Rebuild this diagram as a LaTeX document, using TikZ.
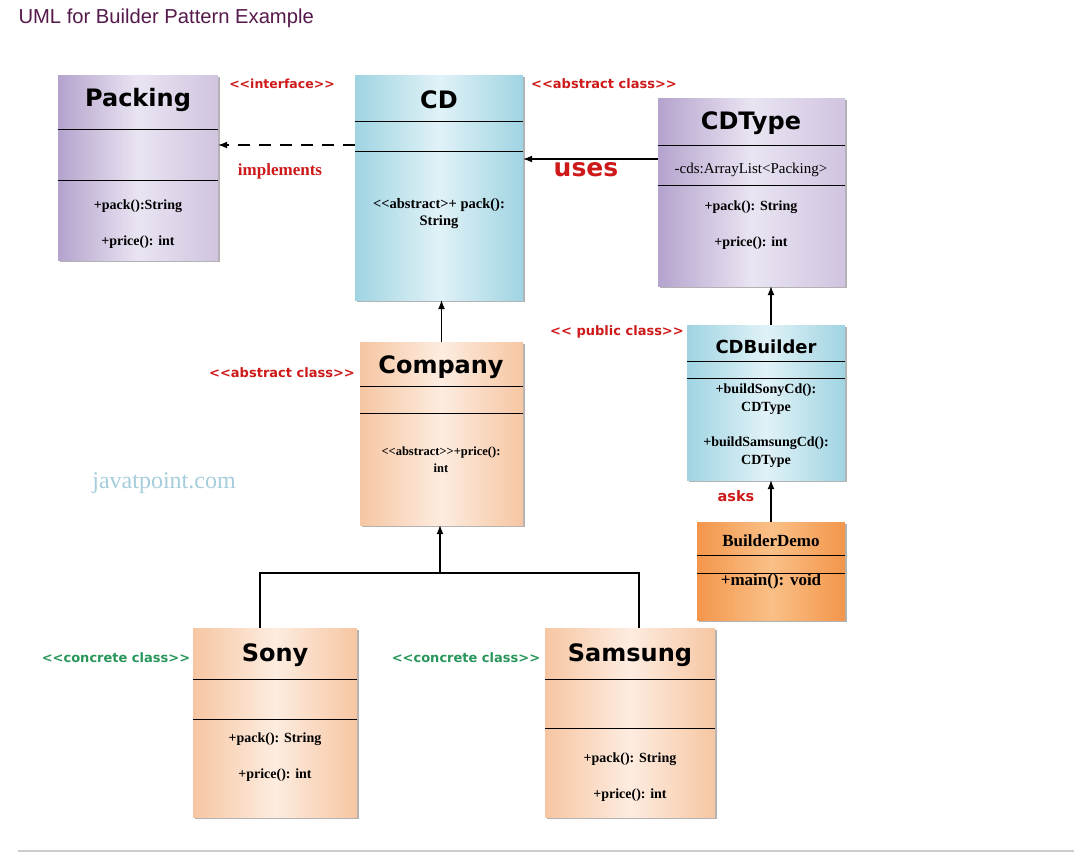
\documentclass[tikz,border=0pt]{standalone}
\usepackage{fontspec}
\setmainfont{Liberation Serif}[Ligatures=TeXOff]
\newfontfamily\boxfont{DejaVu Sans}[Ligatures=TeXOff]
\newfontfamily\webfont{Liberation Sans}[Ligatures=TeXOff]
\usetikzlibrary{arrows.meta,fit,shadows}
\definecolor{lilacD}{RGB}{180,163,205}
\definecolor{lilacL}{RGB}{234,228,242}
\definecolor{lilacM}{RGB}{208,196,224}
\definecolor{skyD}{RGB}{160,212,226}
\definecolor{skyL}{RGB}{224,242,247}
\definecolor{peachD}{RGB}{246,198,162}
\definecolor{peachL}{RGB}{253,236,224}
\definecolor{orangeD}{RGB}{243,150,75}
\definecolor{orangeL}{RGB}{250,192,135}
\definecolor{noteRed}{RGB}{205,25,25}
\definecolor{noteGreen}{RGB}{40,150,90}
\definecolor{webPurple}{RGB}{85,25,75}
\definecolor{markBlue}{RGB}{165,205,220}

\begin{document}
\begin{tikzpicture}[x=1pt, y=-1pt,
  box/.style={inner sep=0pt, drop shadow={shadow xshift=2pt, shadow yshift=-2pt, fill=black, opacity=.3}},
  lilac box/.style={box, left color=lilacD, right color=lilacM, middle color=lilacL},
  sky box/.style={box, left color=skyD, right color=skyD, middle color=skyL},
  peach box/.style={box, left color=peachD, right color=peachD, middle color=peachL},
  orange box/.style={box, left color=orangeD, right color=orangeD, middle color=orangeL},
  class name/.style={font=\boxfont\bfseries\fontsize{24}{26}\selectfont},
  member/.style={font=\bfseries\fontsize{14}{17}\selectfont, align=center},
  note/.style={font=\boxfont\bfseries\fontsize{13}{15}\selectfont, text=noteRed},
  green note/.style={note, text=noteGreen},
  divider/.style={draw, line width=1pt},
  line/.style={draw, line width=1.2pt, -{Latex[length=9pt,width=7pt]}},
  ]
  \useasboundingbox (0,0) rectangle (1074,857);

  \node (heading) [anchor=west, text=webPurple, font=\webfont\fontsize{20.2}{22}\selectfont] at (15,18) {UML for Builder Pattern Example};

  \node (packing) [lilac box, fit={(58,75) (218,260)}] {};
  \node (cd) [sky box, fit={(355,75) (523,300)}] {};
  \node (cdtype) [lilac box, fit={(658,98) (845,286)}] {};
  \node (company) [peach box, fit={(360,342) (523,525)}] {};
  \node (cdbuilder) [sky box, fit={(687,325) (845,480)}] {};
  \node (builderdemo) [orange box, fit={(697,522) (845,620)}] {};
  \node (sony) [peach box, fit={(193,628) (357,817)}] {};
  \node (samsung) [peach box, fit={(545,628) (715,817)}] {};

  \foreach \cls/\ya/\yb in {packing/129/180, cd/121/151, cdtype/145/185, company/386/413,
      cdbuilder/361/378, builderdemo/555/573, sony/679/719, samsung/679/728}
    \draw[divider] (\cls.west |- 0,\ya) -- (\cls.east |- 0,\ya)
                   (\cls.west |- 0,\yb) -- (\cls.east |- 0,\yb);

  \node (packing name) [class name] at (138,100) {Packing};
  \node (packing pack) [member] at (138,206) {+pack():String};
  \node (packing price) [member] at (138,242) {+price(): int};

  \node (cd name) [class name] at (439,100) {CD};
  \node (cd pack) [member, font=\bfseries\fontsize{14.5}{17}\selectfont] at (439,214) {<<abstract>+ pack():\\String};

  \node (cdtype name) [class name] at (751,123) {CDType};
  \node (cdtype cds) [member, font=\fontsize{15}{17}\selectfont] at (751,170) {-cds:ArrayList<Packing>};
  \node (cdtype pack) [member] at (751,207) {+pack(): String};
  \node (cdtype price) [member] at (751,243) {+price(): int};

  \node (company name) [class name] at (441,367) {Company};
  \node (company price) [member, font=\bfseries\fontsize{12.5}{17}\selectfont] at (441,460) {<<abstract>>+price():\\int};

  \node (cdbuilder name) [class name, font=\boxfont\bfseries\fontsize{18}{20}\selectfont] at (766,347) {CDBuilder};
  \node (cdbuilder sony) [member, font=\bfseries\fontsize{14}{18}\selectfont] at (766,399) {+buildSonyCd():\\CDType};
  \node (cdbuilder samsung) [member, font=\bfseries\fontsize{14}{18}\selectfont] at (766,452) {+buildSamsungCd():\\CDType};

  \node (builderdemo name) [member, font=\bfseries\fontsize{17}{19}\selectfont] at (771,541) {BuilderDemo};
  \node (builderdemo main) [member, font=\bfseries\fontsize{17}{19}\selectfont] at (771,581) {+main(): void};

  \node (sony name) [class name] at (275,655) {Sony};
  \node (sony pack) [member] at (275,739) {+pack(): String};
  \node (sony price) [member] at (275,775) {+price(): int};

  \node (samsung name) [class name] at (630,655) {Samsung};
  \node (samsung pack) [member] at (630,759) {+pack(): String};
  \node (samsung price) [member] at (630,795) {+price(): int};

  % stereotypes and labels
  \node (interface note) [note, font=\boxfont\bfseries\fontsize{12.5}{15}\selectfont] at (282,84) {<<interface>>};
  \node (implements note) [text=noteRed, font=\bfseries\fontsize{17}{19}\selectfont] at (280,171) {implements};
  \node (cd note) [note] at (604,84) {<<abstract class>>};
  \node (uses note) [note, font=\boxfont\bfseries\fontsize{25}{27}\selectfont] at (586,170) {uses};
  \node (cdbuilder note) [note] at (617,332) {<< public class>>};
  \node (company note) [note] at (282,373) {<<abstract class>>};
  \node (asks note) [note, font=\boxfont\bfseries\fontsize{14.5}{16}\selectfont] at (736,496) {asks};
  \node (sony note) [green note] at (116,658) {<<concrete class>>};
  \node (samsung note) [green note] at (466,658) {<<concrete class>>};
  \node (watermark) [text=markBlue, font=\fontsize{24}{26}\selectfont] at (164,483) {javatpoint.com};

  % special edges:
  \path[line, dash pattern=on 12pt off 9pt] (cd.west |- 0,145) -- (packing.east |- 0,145);
  \path[line] (cdtype.west |- 0,159) -- (cd.east |- 0,159);
  \path[line] (company.north) -- (company.north |- cd.south);
  \path[line] (cdbuilder.north -| builderdemo.north) -- (cdtype.south -| builderdemo.north);
  \path[line] (builderdemo.north) -- (builderdemo.north |- cdbuilder.south);
  \coordinate (tree) at (440,573);
  \draw[line width=1.2pt] (sony.north -| 260,0) |- (tree) -| (samsung.north -| 639,0);
  \path[line] (tree) -- (company.south -| tree);

  \draw[gray!40, line width=1.5pt] (18,851) -- (1074,851);
\end{tikzpicture}
\end{document}
